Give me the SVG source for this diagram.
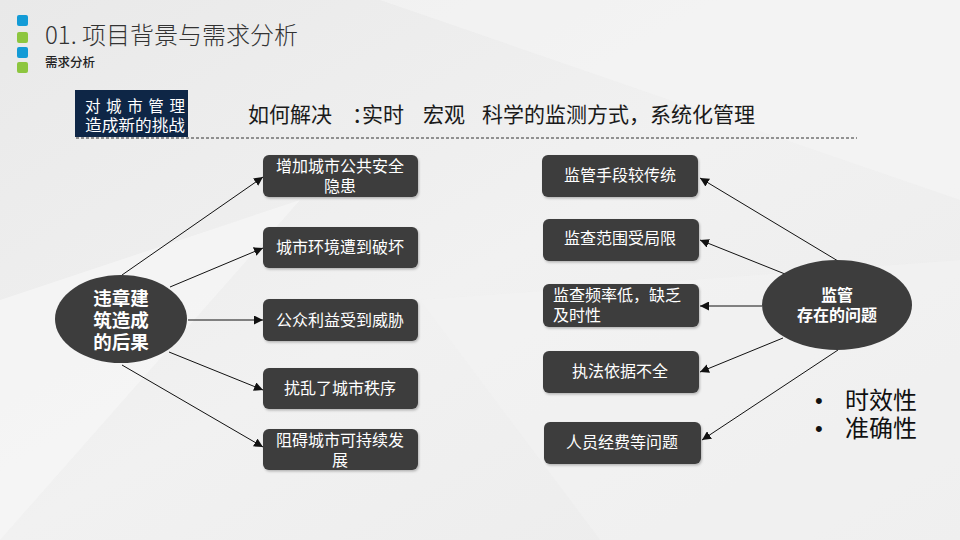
<svg xmlns="http://www.w3.org/2000/svg" width="960" height="540" viewBox="0 0 960 540">
<defs>
<style>
.cjk{font-family:"Noto Sans CJK SC","Noto Sans",sans-serif;}
.box{fill:#3d3d3d;}
.bt{fill:#ffffff;font-size:16px;text-anchor:middle;}
.bl{fill:#ffffff;font-size:16px;}
.et{fill:#ffffff;font-weight:bold;text-anchor:middle;}
.ln{stroke:#111;stroke-width:1;fill:none;marker-end:url(#ah);}
.bul{font-family:"Liberation Sans",Arial,sans-serif;font-size:22px;}
</style>
<marker id="ah" viewBox="0 0 10 10" refX="10" refY="5" markerWidth="9" markerHeight="9" markerUnits="userSpaceOnUse" orient="auto">
<path d="M0,0 L10,5 L0,10 z" fill="#111"/>
</marker>
<filter id="sh" x="-10%" y="-10%" width="130%" height="140%">
<feDropShadow dx="1" dy="1.5" stdDeviation="1" flood-color="#000" flood-opacity="0.25"/>
</filter>
<linearGradient id="bg" x1="0" y1="0" x2="1" y2="1">
<stop offset="0" stop-color="#e9e9e9"/>
<stop offset="0.5" stop-color="#f1f1f1"/>
<stop offset="1" stop-color="#ebebeb"/>
</linearGradient>
</defs>
<rect x="0" y="0" width="960" height="540" fill="url(#bg)"/>
<polygon points="0,300 300,200 0,540" fill="#f6f6f6" opacity="0.7"/>
<polygon points="380,0 960,0 960,200" fill="#f5f5f5" opacity="0.6"/>
<polygon points="420,300 960,260 960,540 600,540" fill="#f3f3f3" opacity="0.5"/>

<g id="header">
<rect x="17" y="15" width="11" height="11" rx="2" fill="#139bd6"/>
<rect x="17" y="32" width="11" height="11" rx="2" fill="#8dc63f"/>
<rect x="17" y="47" width="11" height="11" rx="2" fill="#139bd6"/>
<rect x="17" y="62" width="11" height="11" rx="2" fill="#8dc63f"/>
<text x="45" y="44" class="cjk" font-size="24" font-weight="300" fill="#333">01. 项目背景与需求分析</text>
<text x="45" y="67" class="cjk" font-size="12.5" font-weight="500" fill="#222">需求分析</text>
</g>

<g id="challenge">
<rect x="75" y="90" width="113" height="47" fill="#0e2646"/>
<text class="cjk" font-size="15.5" fill="#fff"><tspan x="85" y="112" textLength="100" lengthAdjust="spacing">对城市管理</tspan><tspan x="85" y="131" textLength="100" lengthAdjust="spacingAndGlyphs">造成新的挑战</tspan></text>
</g>
<g id="headline">
<text y="122" class="cjk" font-size="21" fill="#1a1a1a"><tspan x="248">如何解决</tspan><tspan x="352">：</tspan><tspan x="362">实时</tspan><tspan x="423">宏观</tspan><tspan x="482">科学的监测方式，系统化管理</tspan></text>
<line x1="76" y1="138" x2="857" y2="138" stroke="#333" stroke-width="1" stroke-dasharray="3,2"/>
</g>

<g id="connectors">
<line class="ln" x1="122" y1="275" x2="263" y2="177"/>
<line class="ln" x1="170" y1="287" x2="263" y2="248"/>
<line class="ln" x1="188" y1="320" x2="263" y2="320"/>
<line class="ln" x1="169" y1="352" x2="263" y2="390"/>
<line class="ln" x1="122" y1="365" x2="263" y2="447"/>
<line class="ln" x1="838" y1="261" x2="700" y2="178"/>
<line class="ln" x1="785" y1="274" x2="700" y2="240"/>
<line class="ln" x1="762" y1="306" x2="700" y2="306"/>
<line class="ln" x1="783" y1="338" x2="700" y2="372"/>
<line class="ln" x1="838" y1="350" x2="702" y2="440"/>
</g>

<g id="consequence-hub">
<ellipse cx="121" cy="319" rx="66" ry="44" class="box"/>
<text class="cjk et" font-size="18.5"><tspan x="121" y="305">违章建</tspan><tspan x="121" y="327">筑造成</tspan><tspan x="121" y="349">的后果</tspan></text>
</g>

<g id="l1"><rect x="263" y="155" width="155" height="42" rx="6" class="box" filter="url(#sh)"/>
<text class="cjk bt"><tspan x="340" y="172">增加城市公共安全</tspan><tspan x="340" y="192">隐患</tspan></text></g>
<g id="l2"><rect x="263" y="227" width="155" height="41" rx="6" class="box" filter="url(#sh)"/>
<text x="340" y="253" class="cjk bt">城市环境遭到破坏</text></g>
<g id="l3"><rect x="263" y="299" width="155" height="42" rx="6" class="box" filter="url(#sh)"/>
<text x="340" y="326" class="cjk bt">公众利益受到威胁</text></g>
<g id="l4"><rect x="263" y="368" width="155" height="41" rx="6" class="box" filter="url(#sh)"/>
<text x="340" y="394" class="cjk bt">扰乱了城市秩序</text></g>
<g id="l5"><rect x="263" y="429" width="155" height="41" rx="6" class="box" filter="url(#sh)"/>
<text class="cjk bt"><tspan x="340" y="446">阻碍城市可持续发</tspan><tspan x="340" y="466">展</tspan></text></g>

<g id="problem-hub">
<ellipse cx="837" cy="305" rx="75" ry="45" class="box"/>
<text class="cjk et" font-size="16"><tspan x="837" y="301">监管</tspan><tspan x="837" y="321">存在的问题</tspan></text>
</g>

<g id="r1"><rect x="542" y="155" width="156" height="42" rx="6" class="box" filter="url(#sh)"/>
<text x="620" y="181" class="cjk bt">监管手段较传统</text></g>
<g id="r2"><rect x="543" y="219" width="156" height="42" rx="6" class="box" filter="url(#sh)"/>
<text x="620" y="244" class="cjk bt">监查范围受局限</text></g>
<g id="r3"><rect x="543" y="284" width="156" height="43" rx="6" class="box" filter="url(#sh)"/>
<text class="cjk bl"><tspan x="553" y="301">监查频率低，缺乏</tspan><tspan x="553" y="321">及时性</tspan></text></g>
<g id="r4"><rect x="543" y="351" width="156" height="42" rx="6" class="box" filter="url(#sh)"/>
<text x="620" y="377" class="cjk bt">执法依据不全</text></g>
<g id="r5"><rect x="544" y="422" width="157" height="42" rx="6" class="box" filter="url(#sh)"/>
<text x="622" y="448" class="cjk bt">人员经费等问题</text></g>

<g id="bullets">
<text class="cjk" font-size="24" fill="#111"><tspan x="815" y="408" class="bul">•</tspan><tspan x="845" y="409">时效性</tspan><tspan x="815" y="436" class="bul">•</tspan><tspan x="845" y="437">准确性</tspan></text>
</g>
</svg>
